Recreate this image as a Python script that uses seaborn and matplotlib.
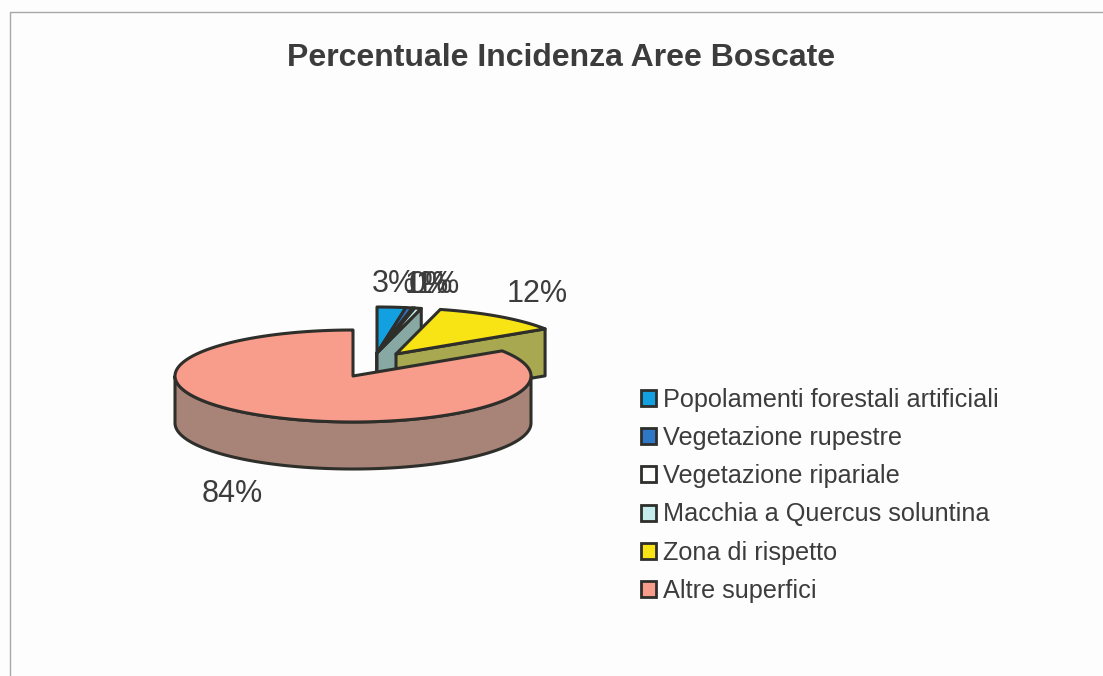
import numpy as np
import seaborn as sns
import matplotlib.pyplot as plt
from matplotlib.patches import Patch

categories = ["Popolamenti forestali artificiali", "Vegetazione rupestre", "Vegetazione ripariale",
              "Macchia a Quercus soluntina", "Zona di rispetto", "Altre superfici"]
values = [2.6, 0.6, 0.2, 0.6, 11.8, 84.2]

top_colors = ["#12a0e0", "#2f78c8", "#ffffff", "#c4ecec", "#f8e414", "#f89c8c"]
side_colors = ["#2b5a68", "#33505c", "#555f60", "#88a8a4", "#a8a850", "#a88478"]
text_color = "#3c3c3c"
edge_color = "#2e2e2a"

# layout, in pixels of the picture
cx, cy = 353, 376
rx, ry = 178, 46
depth = 47
offsets = [(24, -23), (24, -23), (24, -23), (24, -23), (43, -22), (0, 0)]
label_pos = [(394, 284), (427, 285), (431, 285), (438, 285), (537, 294), (232, 494)]

sns.set_theme(style="white")
plt.rcParams["font.family"] = ["Liberation Sans", "DejaVu Sans"]

fig = plt.figure(figsize=(11.03, 6.76), dpi=100, facecolor="#fdfdfd")
ax = fig.add_axes([0, 0, 1, 1])
ax.set_xlim(0, 1103)
ax.set_ylim(676, 0)
ax.axis("off")

# scanned chart frame
ax.plot([10, 10, 1103], [676, 12, 12], color="#a8a8a8", lw=1)


def rim(a0, a1, x0, y0):
    t = np.radians(np.linspace(a0, a1, max(int(a1 - a0) * 2, 2)))
    return x0 + rx * np.sin(t), y0 - ry * np.cos(t)


def draw_slice(a0, a1, off, top, side):
    x0, y0 = cx + off[0], cy + off[1]
    xs, ys = rim(a0, a1, x0, y0)
    # cut face on the closing edge of the slice
    if a1 < 360:
        ax.fill([x0, xs[-1], xs[-1], x0], [y0, ys[-1], ys[-1] + depth, y0 + depth],
                color=side, ec=edge_color, lw=2.2, joinstyle="round")
    # outer wall, only where the rim faces the viewer
    f0, f1 = max(a0, 90), min(a1, 270)
    if f1 > f0:
        wx, wy = rim(f0, f1, x0, y0)
        ax.fill(np.r_[wx, wx[::-1]], np.r_[wy, wy[::-1] + depth],
                color=side, ec=edge_color, lw=2.2, joinstyle="round")
    ax.fill(np.r_[x0, xs], np.r_[y0, ys], color=top, ec=edge_color, lw=2.2, joinstyle="round")


ends = np.cumsum(values) / sum(values) * 360
starts = np.r_[0, ends[:-1]]
for a0, a1, off, top, side in zip(starts, ends, offsets, top_colors, side_colors):
    draw_slice(a0, a1, off, top, side)

for v, pos in zip(values, label_pos):
    ax.text(pos[0], pos[1], f"{v:.0f}%", fontsize=22, color=text_color, ha="center", va="center")

ax.text(561, 58, "Percentuale Incidenza Aree Boscate", fontsize=23, fontweight="bold",
        color=text_color, ha="center", va="center")

handles = [Patch(facecolor=c, edgecolor=edge_color, linewidth=2) for c in top_colors]
leg = ax.legend(handles, categories, loc="upper left", bbox_to_anchor=(641 / 1103, 1 - 388 / 676),
                bbox_transform=ax.transAxes, frameon=False, fontsize=18.2, labelcolor=text_color,
                handlelength=0.6, handleheight=0.6, handletextpad=0.28, labelspacing=0.56,
                borderpad=0, borderaxespad=0)

fig.savefig("out.png", dpi=100, facecolor=fig.get_facecolor())
